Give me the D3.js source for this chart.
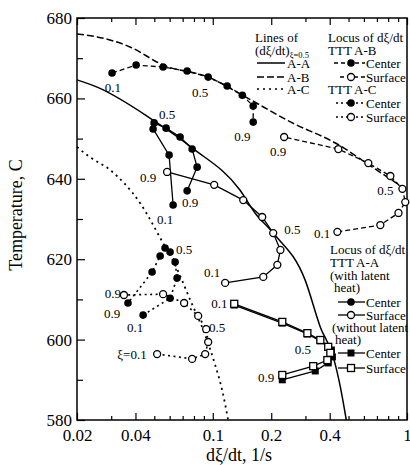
<!DOCTYPE html>
<html><head><meta charset="utf-8">
<script src="https://cdn.jsdelivr.net/npm/d3@7"></script>
<style>body{margin:0;background:#fff} svg{display:block} text{font-family:"Liberation Serif","Times New Roman",serif;fill:#000}</style>
</head><body><svg id="c" width="410" height="465"></svg>
<script>
// ---- data (x = dξ/dt in 1/s, y = temperature in C) ----
const lineAA = [[0.02,664.6],[0.0254,662.8],[0.0493,654.6],[0.0783,647.7],[0.138,637.2],[0.165,631.5],[0.2047,626.5],[0.299,614.8],[0.358,603.1],[0.417,595.7],[0.454,588.2],[0.487,580]];
const lineAB = [[0.02,676.0],[0.0254,675.3],[0.0375,672.8],[0.0555,668.3],[0.0947,665.3],[0.142,660.8],[0.257,653.9],[0.428,648.9],[0.663,642.9],[1.0,637.2]];
const lineAC = [[0.02,647.9],[0.0233,645.4],[0.0296,642.2],[0.0422,634.0],[0.0555,624.0],[0.064,618.6],[0.0765,609.9],[0.0914,601.1],[0.1029,593.7],[0.1117,587.5],[0.12,580]];

const abCenter  = [[0.0303,666.3],[0.0403,668.3],[0.0555,667.8],[0.0738,666.8],[0.0947,665.3],[0.1186,663.1],[0.142,660.8],[0.1615,658.1],[0.1615,654.1]];
const abSurface = [[0.438,626.8],[0.729,628.5],[0.904,631.5],[0.98,634.2],[0.947,637.5],[0.821,640.7],[0.632,643.9],[0.443,647.4],[0.233,650.4]];
const acCenter  = [[0.0438,606.1],[0.0603,610.3],[0.0655,615.3],[0.064,619.3],[0.0603,621.8],[0.0568,622.8],[0.0536,620.8],[0.0487,616.8],[0.0366,609.1]];
const acSurface = [[0.0517,596.4],[0.0783,595.2],[0.0914,596.4],[0.0947,599.4],[0.0925,602.6],[0.0841,605.9],[0.0712,609.1],[0.0555,611.3],[0.0349,611.1]];
const aaCenter  = [[0.0625,633.5],[0.0596,645.9],[0.0493,652.4],[0.0499,653.9],[0.0575,652.6],[0.0679,650.4],[0.0783,647.4],[0.0831,642.9],[0.0738,637.0]];
const aaSurface = [[0.1158,614.1],[0.182,615.6],[0.215,618.6],[0.2229,622.3],[0.2047,626.5],[0.1797,630.5],[0.1435,634.7],[0.1017,638.5],[0.0582,641.7]];
const nlCenter  = [[0.129,608.6],[0.228,604.1],[0.307,601.4],[0.358,599.7],[0.408,597.4],[0.413,595.7],[0.393,594.2],[0.337,592.2],[0.228,590.0]];
const nlSurface = [[0.129,608.9],[0.228,604.4],[0.307,601.6],[0.358,599.9],[0.393,598.2],[0.403,596.7],[0.389,594.9],[0.329,593.4],[0.228,591.2]];

const pointLabels = [
  ["0.1",0.0306,662.8],["0.5",0.0861,661.6],["0.9",0.142,650.6],
  ["0.9",0.217,646.9],["0.5",0.774,637.0],["0.1",0.366,626.5],
  ["0.5",0.0582,656.1],["0.9",0.0765,634.0],["0.1",0.0568,629.8],
  ["0.9",0.0465,640.4],["0.5",0.257,627.3],["0.1",0.0993,616.8],
  ["0.5",0.0712,622.5],["0.9",0.0303,606.6],["0.1",0.0398,602.9],
  ["0.9",0.0306,611.6],["0.5",0.1054,603.1],["ξ=0.1",0.0384,596.2],
  ["0.1",0.108,609.0],["0.5",0.291,597.6],["0.9",0.188,590.6]
];

const xMajor = [0.02,0.04,0.1,0.2,0.4,1];
const xMajorLabels = ["0.02","0.04","0.1","0.2","0.4","1"];
const xMinor = [0.03,0.05,0.06,0.07,0.08,0.09,0.3,0.5,0.6,0.7,0.8,0.9];
const yMajor = [580,600,620,640,660,680];
const yMinor = [590,610,630,650,670];

// ---- drawing ----
const svg = d3.select("#c");
const L = 77, R = 407, T = 18, B = 420;
const x = d3.scaleLog().domain([0.02,1]).range([L,R]);
const y = d3.scaleLinear().domain([580,680]).range([B,T]);
const FS = 17;

svg.append("rect").attr("x",L).attr("y",T).attr("width",R-L).attr("height",B-T)
  .attr("fill","none").attr("stroke","#000").attr("stroke-width",1.5);

function styleAxis(g){ g.select(".domain").remove(); g.selectAll("line").attr("stroke","#000").attr("stroke-width",1.2);
  g.selectAll("text").attr("font-size",FS).attr("font-family","Liberation Serif").attr("fill","#000"); }

svg.append("g").attr("transform",`translate(0,${B})`)
  .call(d3.axisBottom(x).tickValues(xMajor).tickSize(-7).tickPadding(9).tickFormat((d,i)=>xMajorLabels[i])).call(styleAxis);
svg.append("g").attr("transform",`translate(0,${B})`)
  .call(d3.axisBottom(x).tickValues(xMinor).tickSize(-4).tickFormat("")).call(styleAxis);
svg.append("g").attr("transform",`translate(0,${T})`)
  .call(d3.axisTop(x).tickValues(xMajor).tickSize(-7).tickFormat("")).call(styleAxis);
svg.append("g").attr("transform",`translate(0,${T})`)
  .call(d3.axisTop(x).tickValues(xMinor).tickSize(-4).tickFormat("")).call(styleAxis);
svg.append("g").attr("transform",`translate(${L},0)`)
  .call(d3.axisLeft(y).tickValues(yMajor).tickSize(-8).tickPadding(5).tickFormat(d3.format("d"))).call(styleAxis);
svg.append("g").attr("transform",`translate(${L},0)`)
  .call(d3.axisLeft(y).tickValues(yMinor).tickSize(-6).tickFormat("")).call(styleAxis);

svg.append("text").attr("transform","translate(22,215) rotate(-90)").attr("text-anchor","middle")
  .attr("font-size",18).attr("fill","#000").text("Temperature, C");
svg.append("text").attr("x",239).attr("y",461).attr("text-anchor","middle").attr("font-size",18).attr("fill","#000").text("dξ/dt, 1/s");

const smooth = d3.line().x(d=>x(d[0])).y(d=>y(d[1])).curve(d3.curveMonotoneX);
const straight = d3.line().x(d=>x(d[0])).y(d=>y(d[1]));

function path(data, gen, dash, w){
  svg.append("path").datum(data).attr("d",gen).attr("fill","none").attr("stroke","#000")
    .attr("stroke-width",w).attr("stroke-dasharray",dash);
}
path(lineAA, smooth, null, 1.5);
path(lineAB, smooth, "7,3", 1.5);
path(lineAC, smooth, "2,4", 1.8);

path(abCenter, straight, "5,3", 1.3);
path(abSurface, straight, "5,3", 1.3);
path(acCenter, straight, "2,3.5", 1.6);
path(acSurface, straight, "2,3.5", 1.6);
path(aaCenter, straight, null, 1.3);
path(aaSurface, straight, null, 1.3);
path(nlCenter, straight, null, 1.3);
path(nlSurface, straight, null, 1.3);

function marker(g, cx, cy, type){
  if(type==="fc") g.append("circle").attr("cx",cx).attr("cy",cy).attr("r",3.8).attr("fill","#000");
  else if(type==="oc") g.append("circle").attr("cx",cx).attr("cy",cy).attr("r",3.5).attr("fill","#fff").attr("stroke","#000").attr("stroke-width",1.3);
  else if(type==="fs") g.append("rect").attr("x",cx-3.5).attr("y",cy-3.5).attr("width",7).attr("height",7).attr("fill","#000");
  else g.append("rect").attr("x",cx-3.5).attr("y",cy-3.5).attr("width",7).attr("height",7).attr("fill","#fff").attr("stroke","#000").attr("stroke-width",1.3);
}
function markers(data, type){
  const g = svg.append("g");
  data.forEach(d=>marker(g, x(d[0]), y(d[1]), type));
}
markers(abCenter,"fc"); markers(abSurface,"oc");
markers(acCenter,"fc"); markers(acSurface,"oc");
markers(aaCenter,"fc"); markers(aaSurface,"oc");
markers(nlCenter,"fs"); markers(nlSurface,"os");

svg.append("g").selectAll("text").data(pointLabels).join("text")
  .attr("x",d=>x(d[1])).attr("y",d=>y(d[2])).attr("dy","0.35em").attr("text-anchor","middle")
  .attr("font-size",13).attr("fill","#000").text(d=>d[0]);

// ---- legends ----
const lg = svg.append("g").attr("font-size",13).attr("fill","#000");
lg.append("text").attr("x",255).attr("y",42).text("Lines of");
const t2 = lg.append("text").attr("x",255).attr("y",55);
t2.append("tspan").text("(dξ/dt)");
t2.append("tspan").attr("font-size",8.5).attr("dy",3).text("ξ=0.5");
const lineLeg = [["A-A",null,68],["A-B","7,3",82],["A-C","2,4",94]];
lineLeg.forEach(d=>{
  lg.append("line").attr("x1",257).attr("x2",285).attr("y1",d[2]-5).attr("y2",d[2]-5)
    .attr("stroke","#000").attr("stroke-width",1.5).attr("stroke-dasharray",d[1]);
  lg.append("text").attr("x",287).attr("y",d[2]).text(d[0]);
});

const textLeg = [["Locus of dξ/dt",328,42],["TTT A-B",328,55],["TTT A-C",328,94],
  ["Locus of dξ/dt",330,254],["TTT A-A",330,267],["(with latent",330,280],["heat)",334,292],
  ["(without latent",332,332],["heat)",335,344]];
textLeg.forEach(d=>lg.append("text").attr("x",d[1]).attr("y",d[2]).text(d[0]));

const markLeg = [["Center","fc","4,3",68,334],["Surface","oc","4,3",82,340],
  ["Center","fc","2,3",108,336],["Surface","oc","2,3",122,336],
  ["Center","fc",null,307,338],["Surface","oc",null,320,338],
  ["Center","fs",null,358,338],["Surface","os",null,373,338]];
markLeg.forEach(d=>{
  const yy = d[3]-5;
  lg.append("line").attr("x1",d[4]).attr("x2",365).attr("y1",yy).attr("y2",yy)
    .attr("stroke","#000").attr("stroke-width",1.3).attr("stroke-dasharray",d[2]);
  marker(lg, 351, yy, d[1]);
  lg.append("text").attr("x",366).attr("y",d[3]).text(d[0]);
});
</script></body></html>
